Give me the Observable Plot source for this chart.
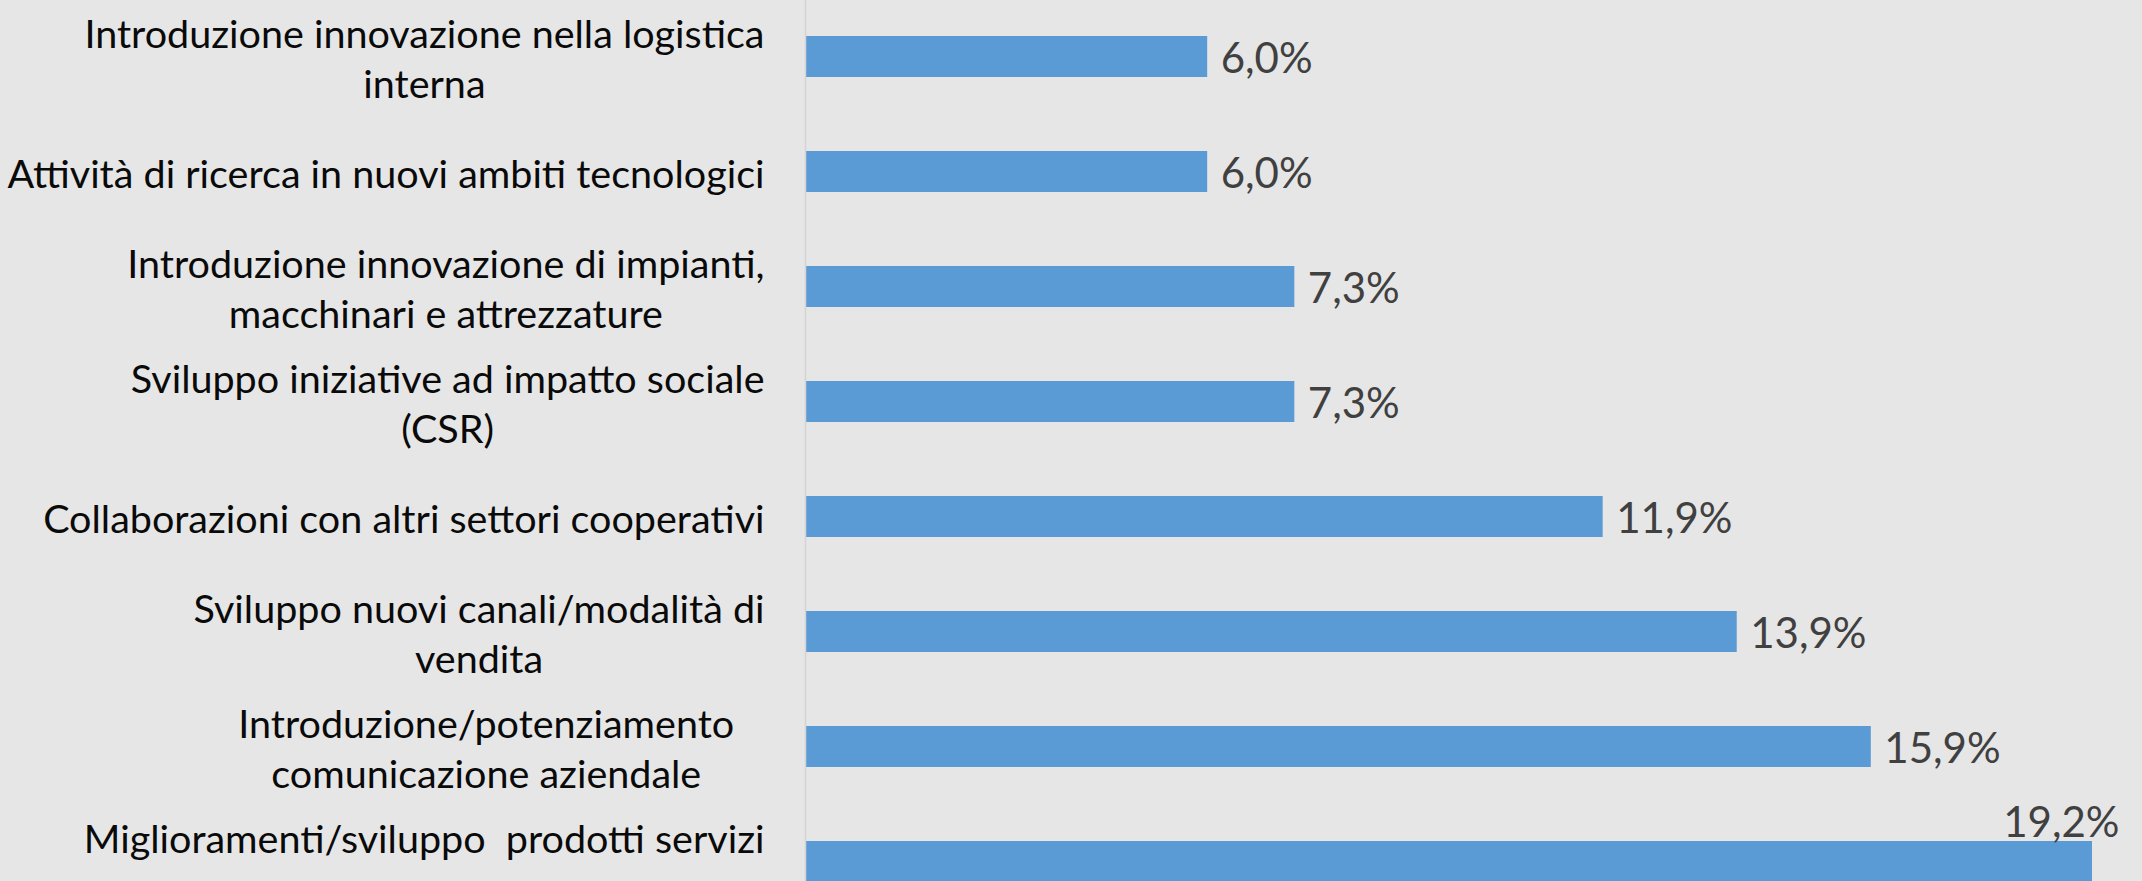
<!DOCTYPE html>
<html><head><meta charset="utf-8">
<script src="https://cdn.jsdelivr.net/npm/d3@7"></script>
<script src="https://cdn.jsdelivr.net/npm/@observablehq/plot@0.6"></script>
<style>
html,body{margin:0;padding:0;background:#e6e6e6;}
#chart svg{display:block}
</style>
</head><body><div id="chart"></div>
<script>
// Category (tick) labels, top to bottom
const categories = [
  "Introduzione innovazione nella logistica\ninterna",
  "Attività di ricerca in nuovi ambiti tecnologici",
  "Introduzione innovazione di impianti,\nmacchinari e attrezzature",
  "Sviluppo iniziative ad impatto sociale\n(CSR)",
  "Collaborazioni con altri settori cooperativi",
  "Sviluppo nuovi canali/modalità di\nvendita",
  "Introduzione/potenziamento\u00a0\u00a0\u00a0\u00a0\u00a0\u00a0\ncomunicazione aziendale",
  "Miglioramenti/sviluppo \u00a0prodotti servizi\n"
];
// Percent values
const values = [6.0, 6.0, 7.3, 7.3, 11.9, 13.9, 15.9, 19.2];

const data = categories.map((c, i) => ({category: c, value: values[i]}));
const fmt = v => d3.format(".1f")(v).replace(".", ",") + "%";
const maxV = d3.max(values);
const FONT = "Lato, 'Open Sans', sans-serif";

const chart = Plot.plot({
  width: 2142,
  height: 881,
  margin: 0,
  style: {background: "#e6e6e6", fontFamily: FONT, overflow: "hidden"},
  x: {domain: [0, maxV], range: [805, 2092], axis: null},
  y: {domain: categories, range: [34.8, 882.2], paddingInner: 0.644, paddingOuter: 0, axis: null},
  marks: [
    Plot.barX(data, {x: "value", y: "category", fill: "#5b9bd5"}),
    Plot.ruleX([0], {stroke: "#d4d4d4", strokeWidth: 1.5}),
    Plot.text(data, {
      x: 0, y: "category", text: "category",
      textAnchor: "end", dx: -41, fontSize: 39.5, lineHeight: 1.27,
      fill: "#0a0a0a", className: "cat-label"
    }),
    Plot.text(data.filter(d => d.value < maxV), {
      x: "value", y: "category", text: d => fmt(d.value),
      textAnchor: "start", dx: 13, dy: 2.5, fontSize: 42, fill: "#404040"
    }),
    Plot.text(data.filter(d => d.value === maxV), {
      x: "value", y: "category", text: d => fmt(d.value),
      textAnchor: "end", dx: 27, dy: -38.7, fontSize: 42, fill: "#404040"
    })
  ]
});

document.getElementById("chart").append(chart);

// Center the lines of wrapped category labels within their right-aligned block
chart.querySelectorAll("g.cat-label text").forEach(t => {
  const spans = t.querySelectorAll("tspan");
  if (spans.length < 2) return;
  let maxW = 0;
  spans.forEach(s => { maxW = Math.max(maxW, s.getComputedTextLength()); });
  t.setAttribute("text-anchor", "middle");
  spans.forEach(s => {
    s.textContent = s.textContent.replace(/[\s\u00a0]+$/, "");
    const x0 = parseFloat(s.getAttribute("x") || "0");
    s.setAttribute("x", x0 - maxW / 2);
  });
});
</script>
</body></html>
